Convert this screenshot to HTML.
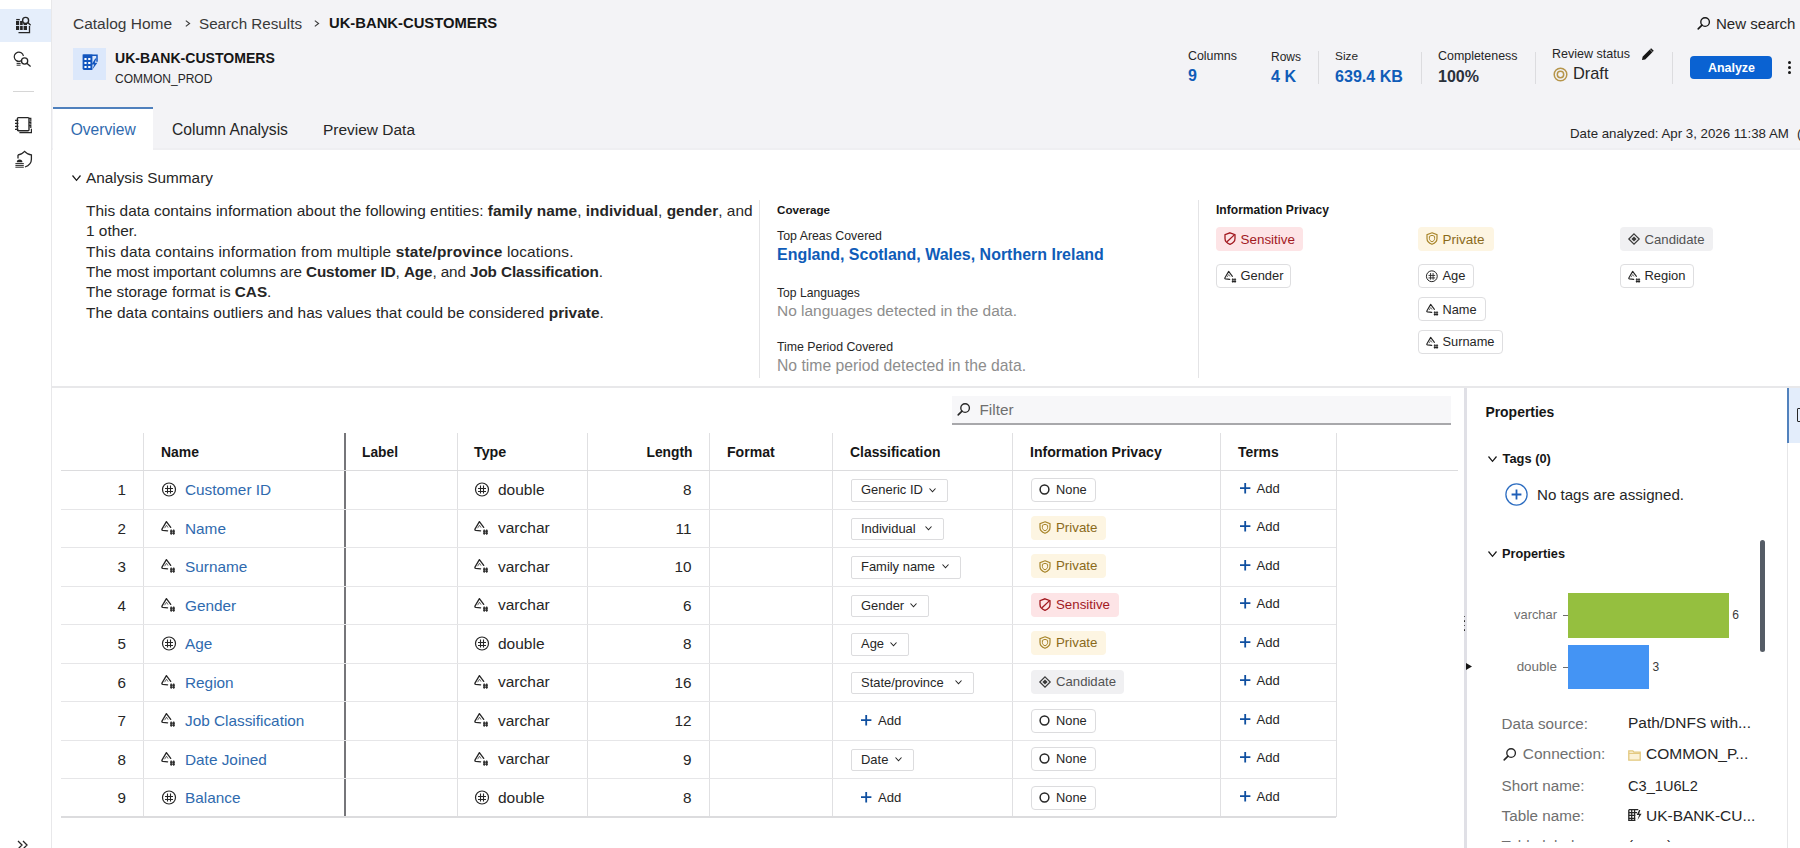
<!DOCTYPE html>
<html><head><meta charset="utf-8">
<style>
*{box-sizing:border-box;margin:0;padding:0}
html,body{width:1800px;height:848px;overflow:hidden;background:#fff}
body{font-family:"Liberation Sans",sans-serif;color:#161616;position:relative}
.a{position:absolute;white-space:nowrap;line-height:1}
svg.a{overflow:visible}
b{font-weight:700}
</style></head><body>
<div class="a" style="left:52px;top:0px;width:1748px;height:150px;background:#f3f3f6"></div>
<div class="a" style="left:52px;top:148px;width:1748px;height:2px;background:#efeff2"></div>
<div class="a" style="left:0px;top:0px;width:51px;height:848px;background:#fff"></div>
<div class="a" style="left:51px;top:0px;width:1px;height:848px;background:#e8e8ea"></div>
<div class="a" style="left:0px;top:9px;width:51px;height:33px;background:#e5eefb"></div>
<div class="a" style="left:13px;top:91px;width:21px;height:1px;background:#d6d6d6"></div>
<svg class="a" style="left:14px;top:16px;" width="19" height="19" viewBox="14 16 19 19" fill="none"><path d="M16.2 19.6h3.6" stroke="#262626" stroke-width="1.3"/><rect x="16" y="21" width="11" height="9" fill="#262626"/><path d="M19.6 21v9M23.2 21v9M16 25.5h11" stroke="#e5eefb" stroke-width="0.9"/><circle cx="25.6" cy="20.4" r="3" stroke="#262626" stroke-width="1.4" fill="#e5eefb"/><path d="M27.8 22.6l2.8 2.6" stroke="#262626" stroke-width="1.4"/><path d="M18.5 32.6h11v-6.6" stroke="#262626" stroke-width="1.3"/></svg>
<svg class="a" style="left:14px;top:49px;" width="19" height="19" viewBox="14 49 19 19" fill="none"><path d="M21.8 60.2A4.6 4.6 0 1 1 23.4 56" stroke="#262626" stroke-width="1.2"/><path d="M16.6 61.6h3.4M16.6 63.4h4M16.6 65.2h4" stroke="#262626" stroke-width="1"/><circle cx="24.6" cy="61" r="3.1" stroke="#262626" stroke-width="1.3"/><path d="M26.8 63.2l3.8 3.4" stroke="#262626" stroke-width="1.3"/></svg>
<svg class="a" style="left:14px;top:116px;" width="19" height="19" viewBox="14 116 19 19" fill="none"><rect x="17.4" y="117.6" width="11.6" height="13.2" rx="1" stroke="#262626" stroke-width="1.4"/><path d="M15 120.4h3.4M15 123.4h3.4M15 126.4h3.4M15 129.4h3.4" stroke="#262626" stroke-width="1.1"/><path d="M29 118.4h1.8v3M29 122.4h1.8v2.4M29 125.6h1.8v2.4" stroke="#262626" stroke-width="1.2"/><path d="M19.4 132.6h12v-3.8" stroke="#262626" stroke-width="1.2"/></svg>
<svg class="a" style="left:14px;top:150px;" width="19" height="19" viewBox="14 150 19 19" fill="none"><path d="M18 154.8c2.6 0 4.6-1.2 6.6-3.4 2 2.2 4 3.4 6.8 3.4v4.4c0 3.6-2.6 6.4-6.4 7.8" stroke="#262626" stroke-width="1.3"/><path d="M18 154.8v3.6" stroke="#262626" stroke-width="1.3"/><path d="M16.8 162.2a2.8 2.8 0 0 1 5.6 0z" fill="#262626"/><path d="M15.4 163.6h8.4M15.4 165.4h8.4M15.4 167.2h8.4" stroke="#262626" stroke-width="1"/></svg>
<div class="a" style="left:73px;top:15.68px;font-size:15.5px;font-weight:400;color:#393939;">Catalog Home</div>
<svg class="a" style="left:185px;top:20px;" width="6" height="7" viewBox="0 0 6 7" fill="none"><path d="M0.8 0.6L4.6 3.5 0.8 6.4" stroke="#393939" stroke-width="1.1"/></svg>
<div class="a" style="left:199px;top:15.93px;font-size:15.2px;font-weight:400;color:#393939;">Search Results</div>
<svg class="a" style="left:314px;top:20px;" width="6" height="7" viewBox="0 0 6 7" fill="none"><path d="M0.8 0.6L4.6 3.5 0.8 6.4" stroke="#393939" stroke-width="1.1"/></svg>
<div class="a" style="left:329px;top:16.27px;font-size:14.8px;font-weight:700;color:#161616;">UK-BANK-CUSTOMERS</div>
<div class="a" style="left:73px;top:48px;width:33px;height:32px;background:#dce8fb"></div>
<svg class="a" style="left:82px;top:54px;" width="17" height="17" viewBox="82 54 17 17" fill="none"><path d="M83.2 55.2h13.8v6.6" stroke="#1356be" stroke-width="1.5"/><path d="M82.6 54.6h9.8v15.4h-8.4a1.4 1.4 0 0 1-1.4-1.4z" fill="#1356be"/><path d="M84.4 58h2.2v2h-2.2zM88.2 58h2.2v2h-2.2zM84.4 62h2.2v2h-2.2zM88.2 62h2.2v2h-2.2zM84.4 66h2.2v2h-2.2zM88.2 66h2.2v2h-2.2z" fill="#fff"/><path d="M95.2 58.6l-3.6 5.8h2.6l-1.8 5 5-6.6h-2.6l1.6-4.2z" fill="#1356be"/></svg>
<div class="a" style="left:115px;top:50.69px;font-size:14.07px;font-weight:700;color:#161616;">UK-BANK-CUSTOMERS</div>
<div class="a" style="left:115px;top:73.24px;font-size:12px;font-weight:400;color:#262626;">COMMON_PROD</div>
<svg class="a" style="left:1697px;top:17px;" width="13" height="13" viewBox="0 0 13 13" fill="none"><circle cx="8.1" cy="5" r="4.3" stroke="#161616" stroke-width="1.35"/><path d="M5 8.1L1.2 11.9" stroke="#161616" stroke-width="1.6" stroke-linecap="round"/></svg>
<div class="a" style="left:1716px;top:15.95px;font-size:15.06px;font-weight:400;color:#262626;">New search</div>
<div class="a" style="left:1188px;top:50.18px;font-size:12.42px;font-weight:400;color:#262626;">Columns</div>
<div class="a" style="left:1188px;top:68.05px;font-size:16px;font-weight:700;color:#0f5cb8;">9</div>
<div class="a" style="left:1271px;top:50.54px;font-size:12.0px;font-weight:400;color:#262626;">Rows</div>
<div class="a" style="left:1271px;top:68.00px;font-size:16.06px;font-weight:700;color:#0f5cb8;">4 K</div>
<div class="a" style="left:1318px;top:51px;width:1px;height:33px;background:#dcdcdf"></div>
<div class="a" style="left:1335px;top:50.69px;font-size:11.82px;font-weight:400;color:#262626;">Size</div>
<div class="a" style="left:1335px;top:67.97px;font-size:16.1px;font-weight:700;color:#0f5cb8;">639.4 KB</div>
<div class="a" style="left:1421px;top:52px;width:1px;height:32px;background:#dcdcdf"></div>
<div class="a" style="left:1438px;top:50.27px;font-size:12.44px;font-weight:400;color:#262626;">Completeness</div>
<div class="a" style="left:1438px;top:67.93px;font-size:16.03px;font-weight:700;color:#2a313b;">100%</div>
<div class="a" style="left:1535px;top:52px;width:1px;height:32px;background:#dcdcdf"></div>
<div class="a" style="left:1552px;top:48.39px;font-size:12.53px;font-weight:400;color:#262626;">Review status</div>
<svg class="a" style="left:1641px;top:48px;" width="13" height="13" viewBox="0 0 13 13" fill="none"><path d="M1 12l0.6-3.2L8.8 1.6l2.6 2.6-7.2 7.2z" fill="#161616"/><path d="M9.6 0.8l2.6 2.6" stroke="#161616" stroke-width="1.5"/></svg>
<svg class="a" style="left:1553px;top:67px;" width="15" height="15" viewBox="0 0 15 15" fill="none"><circle cx="7.5" cy="7.5" r="6.3" stroke="#b6954a" stroke-width="1.5"/><circle cx="7.5" cy="7.5" r="3.2" stroke="#b6954a" stroke-width="1.5"/></svg>
<div class="a" style="left:1573px;top:64.63px;font-size:16.38px;font-weight:400;color:#262626;">Draft</div>
<div class="a" style="left:1672px;top:52px;width:1px;height:32px;background:#dcdcdf"></div>
<div class="a" style="left:1690px;top:56px;width:82px;height:23px;background:#0a62d2;border-radius:4px"></div>
<div class="a" style="left:1708px;top:61.67px;font-size:12.44px;font-weight:700;color:#fff;">Analyze</div>
<div class="a" style="left:1787.7px;top:61.0px;width:3.2px;height:3.2px;border-radius:50%;background:#161616"></div>
<div class="a" style="left:1787.7px;top:66.1px;width:3.2px;height:3.2px;border-radius:50%;background:#161616"></div>
<div class="a" style="left:1787.7px;top:71.3px;width:3.2px;height:3.2px;border-radius:50%;background:#161616"></div>
<div class="a" style="left:53px;top:107px;width:100px;height:43px;background:#fff"></div>
<div class="a" style="left:53px;top:107px;width:100px;height:2px;background:#4f80bd"></div>
<div class="a" style="left:70.7px;top:121.69px;font-size:15.6px;font-weight:400;color:#2f6aae;">Overview</div>
<div class="a" style="left:172px;top:121.62px;font-size:15.69px;font-weight:400;color:#262626;">Column Analysis</div>
<div class="a" style="left:323px;top:121.80px;font-size:15.47px;font-weight:400;color:#262626;">Preview Data</div>
<div class="a" style="left:1570px;top:126.76px;font-size:13.28px;font-weight:400;color:#262626;">Date analyzed: Apr 3, 2026 11:38 AM</div>
<div class="a" style="left:1797px;top:126.76px;font-size:13.28px;font-weight:400;color:#262626;">(</div>
<svg class="a" style="left:72px;top:175px;" width="9" height="6" viewBox="0 0 9 6" fill="none"><path d="M0.5 0.5L4.5 5.3L8.5 0.5" stroke="#161616" stroke-width="1.2"/></svg>
<div class="a" style="left:86px;top:170.01px;font-size:15.34px;font-weight:400;color:#262626;">Analysis Summary</div>
<div class="a" style="left:86px;top:203.24px;font-size:15.42px;font-weight:400;color:#262626;letter-spacing:0.03px">This data contains information about the following entities: <b>family name</b>, <b>individual</b>, <b>gender</b>, and</div>
<div class="a" style="left:86px;top:223.44px;font-size:15.42px;font-weight:400;color:#262626;letter-spacing:0px">1 other.</div>
<div class="a" style="left:86px;top:243.74px;font-size:15.42px;font-weight:400;color:#262626;letter-spacing:0.165px">This data contains information from multiple <b>state/province</b> locations.</div>
<div class="a" style="left:86px;top:264.09px;font-size:15.25px;font-weight:400;color:#262626;letter-spacing:-0.095px">The most important columns are <b>Customer ID</b>, <b>Age</b>, and <b>Job Classification</b>.</div>
<div class="a" style="left:86px;top:284.45px;font-size:15.3px;font-weight:400;color:#262626;letter-spacing:0px">The storage format is <b>CAS</b>.</div>
<div class="a" style="left:86px;top:304.74px;font-size:15.42px;font-weight:400;color:#262626;letter-spacing:0.03px">The data contains outliers and has values that could be considered <b>private</b>.</div>
<div class="a" style="left:759px;top:200px;width:1px;height:178px;background:#e4e4e6"></div>
<div class="a" style="left:1198px;top:200px;width:1px;height:178px;background:#e4e4e6"></div>
<div class="a" style="left:777px;top:204.45px;font-size:11.63px;font-weight:700;color:#161616;">Coverage</div>
<div class="a" style="left:777px;top:229.84px;font-size:12.35px;font-weight:400;color:#262626;">Top Areas Covered</div>
<div class="a" style="left:777px;top:247.47px;font-size:15.98px;font-weight:700;color:#0f5cb8;">England, Scotland, Wales, Northern Ireland</div>
<div class="a" style="left:777px;top:287.02px;font-size:12.14px;font-weight:400;color:#262626;">Top Languages</div>
<div class="a" style="left:777px;top:302.90px;font-size:15.47px;font-weight:400;color:#8d8d8d;">No languages detected in the data.</div>
<div class="a" style="left:777px;top:341.06px;font-size:12.33px;font-weight:400;color:#262626;">Time Period Covered</div>
<div class="a" style="left:777px;top:358.09px;font-size:15.72px;font-weight:400;color:#8d8d8d;">No time period detected in the data.</div>
<div class="a" style="left:1216px;top:204.05px;font-size:12.1px;font-weight:700;color:#161616;">Information Privacy</div>
<div class="a" style="left:1216px;top:227px;width:87px;height:24px;background:#fde4e6;border-radius:4px;"></div>
<svg class="a" style="left:1224px;top:232px;" width="12" height="13" viewBox="0 0 12 13" fill="none"><path d="M6 0.8L11 2.6V6.6C11 9.4 8.8 11.4 6 12.3 3.2 11.4 1 9.4 1 6.6V2.6Z" stroke="#a2191f" stroke-width="1.3"/><path d="M3 9.8L10.6 2.6" stroke="#a2191f" stroke-width="1.3"/></svg>
<div class="a" style="left:1240.5px;top:232.93px;font-size:13.43px;font-weight:400;color:#a2191f;">Sensitive</div>
<div class="a" style="left:1418px;top:227px;width:76px;height:24px;background:#fdf5e2;border-radius:4px;"></div>
<svg class="a" style="left:1426px;top:232px;" width="12" height="13" viewBox="0 0 12 13" fill="none"><path d="M6 0.8L11 2.6V6.6C11 9.4 8.8 11.4 6 12.3 3.2 11.4 1 9.4 1 6.6V2.6Z" stroke="#a8852a" stroke-width="1.2"/><path d="M6 3.3L8.6 4.3V6.6C8.6 8.2 7.6 9.2 6 9.8 4.4 9.2 3.4 8.2 3.4 6.6V4.3Z" stroke="#a8852a" stroke-width="1"/></svg>
<div class="a" style="left:1442.5px;top:232.88px;font-size:13.49px;font-weight:400;color:#8a6a1a;">Private</div>
<div class="a" style="left:1620px;top:227px;width:93px;height:24px;background:#f0f0f2;border-radius:4px;"></div>
<svg class="a" style="left:1628px;top:233px;" width="12" height="12" viewBox="0 0 12 12" fill="none"><path d="M6 0.8L11.2 6 6 11.2 0.8 6Z" stroke="#393939" stroke-width="1.2"/><path d="M6 3.4L8.6 6 6 8.6 3.4 6Z" fill="#393939"/></svg>
<div class="a" style="left:1644.5px;top:233.16px;font-size:13.16px;font-weight:400;color:#525252;">Candidate</div>
<div class="a" style="left:1216px;top:264px;width:75px;height:24px;background:#fff;border-radius:4px;border:1px solid #dedee0;"></div>
<svg class="a" style="left:1224px;top:270px;" width="13" height="13" viewBox="0 0 15 15" fill="none"><path d="M6.6 10.8L1.8 10.3Q0.4 10.1 1.1 8.9L5.4 1.6 9.7 7.4" stroke="#262626" stroke-width="1.3" stroke-linejoin="round" stroke-linecap="round"/><path d="M3.6 8.2L5.5 5.2 7 7.6" stroke="#262626" stroke-width="0.7"/><path d="M10.2 9.4v5.4M12.7 9.4v5.4M9 11.2h5M9 13.2h5" stroke="#262626" stroke-width="1.2"/></svg>
<div class="a" style="left:1240.5px;top:270.39px;font-size:12.89px;font-weight:400;color:#262626;">Gender</div>
<div class="a" style="left:1418px;top:264px;width:56px;height:24px;background:#fff;border-radius:4px;border:1px solid #dedee0;"></div>
<svg class="a" style="left:1426px;top:270px;" width="12.5" height="12.5" viewBox="0 0 15 15" fill="none"><circle cx="7" cy="7.5" r="6.5" stroke="#262626" stroke-width="1.2"/><path d="M5.5 3.6v8M8.5 3.6v8M3 6.5h8M3 9.5h8" stroke="#262626" stroke-width="1.1"/></svg>
<div class="a" style="left:1442.5px;top:270.35px;font-size:12.93px;font-weight:400;color:#262626;">Age</div>
<div class="a" style="left:1620px;top:264px;width:74px;height:24px;background:#fff;border-radius:4px;border:1px solid #dedee0;"></div>
<svg class="a" style="left:1628px;top:270px;" width="13" height="13" viewBox="0 0 15 15" fill="none"><path d="M6.6 10.8L1.8 10.3Q0.4 10.1 1.1 8.9L5.4 1.6 9.7 7.4" stroke="#262626" stroke-width="1.3" stroke-linejoin="round" stroke-linecap="round"/><path d="M3.6 8.2L5.5 5.2 7 7.6" stroke="#262626" stroke-width="0.7"/><path d="M10.2 9.4v5.4M12.7 9.4v5.4M9 11.2h5M9 13.2h5" stroke="#262626" stroke-width="1.2"/></svg>
<div class="a" style="left:1644.5px;top:270.34px;font-size:12.94px;font-weight:400;color:#262626;">Region</div>
<div class="a" style="left:1418px;top:297px;width:68px;height:24px;background:#fff;border-radius:4px;border:1px solid #dedee0;"></div>
<svg class="a" style="left:1426px;top:303px;" width="13" height="13" viewBox="0 0 15 15" fill="none"><path d="M6.6 10.8L1.8 10.3Q0.4 10.1 1.1 8.9L5.4 1.6 9.7 7.4" stroke="#262626" stroke-width="1.3" stroke-linejoin="round" stroke-linecap="round"/><path d="M3.6 8.2L5.5 5.2 7 7.6" stroke="#262626" stroke-width="0.7"/><path d="M10.2 9.4v5.4M12.7 9.4v5.4M9 11.2h5M9 13.2h5" stroke="#262626" stroke-width="1.2"/></svg>
<div class="a" style="left:1442.5px;top:303.50px;font-size:12.75px;font-weight:400;color:#262626;">Name</div>
<div class="a" style="left:1418px;top:330px;width:85px;height:24px;background:#fff;border-radius:4px;border:1px solid #dedee0;"></div>
<svg class="a" style="left:1426px;top:336px;" width="13" height="13" viewBox="0 0 15 15" fill="none"><path d="M6.6 10.8L1.8 10.3Q0.4 10.1 1.1 8.9L5.4 1.6 9.7 7.4" stroke="#262626" stroke-width="1.3" stroke-linejoin="round" stroke-linecap="round"/><path d="M3.6 8.2L5.5 5.2 7 7.6" stroke="#262626" stroke-width="0.7"/><path d="M10.2 9.4v5.4M12.7 9.4v5.4M9 11.2h5M9 13.2h5" stroke="#262626" stroke-width="1.2"/></svg>
<div class="a" style="left:1442.5px;top:336.45px;font-size:12.82px;font-weight:400;color:#262626;">Surname</div>
<div class="a" style="left:52px;top:386px;width:1748px;height:2px;background:#e8e8ea"></div>
<div class="a" style="left:952px;top:396px;width:499px;height:29px;background:#f7f7f9;border-bottom:2px solid #a8a8ab"></div>
<svg class="a" style="left:957px;top:403px;" width="13" height="13" viewBox="0 0 13 13" fill="none"><circle cx="8.1" cy="5" r="4.3" stroke="#262626" stroke-width="1.35"/><path d="M5 8.1L1.2 11.9" stroke="#262626" stroke-width="1.6" stroke-linecap="round"/></svg>
<div class="a" style="left:979.5px;top:401.55px;font-size:15.3px;font-weight:400;color:#6f6f6f;">Filter</div>
<div class="a" style="left:143px;top:433px;width:1px;height:384px;background:#e0e0e2"></div>
<div class="a" style="left:344px;top:433px;width:2px;height:384px;background:#76767a"></div>
<div class="a" style="left:457px;top:433px;width:1px;height:384px;background:#e0e0e2"></div>
<div class="a" style="left:587px;top:433px;width:1px;height:384px;background:#e0e0e2"></div>
<div class="a" style="left:709px;top:433px;width:1px;height:384px;background:#e0e0e2"></div>
<div class="a" style="left:832px;top:433px;width:1px;height:384px;background:#e0e0e2"></div>
<div class="a" style="left:1012px;top:433px;width:1px;height:384px;background:#e0e0e2"></div>
<div class="a" style="left:1220px;top:433px;width:1px;height:384px;background:#e0e0e2"></div>
<div class="a" style="left:1336px;top:433px;width:1px;height:384px;background:#e0e0e2"></div>
<div class="a" style="left:61px;top:470px;width:1397px;height:1px;background:#dcdcde"></div>
<div class="a" style="left:61px;top:509px;width:1275px;height:1px;background:#e6e6e8"></div>
<div class="a" style="left:61px;top:547px;width:1275px;height:1px;background:#e6e6e8"></div>
<div class="a" style="left:61px;top:586px;width:1275px;height:1px;background:#e6e6e8"></div>
<div class="a" style="left:61px;top:624px;width:1275px;height:1px;background:#e6e6e8"></div>
<div class="a" style="left:61px;top:663px;width:1275px;height:1px;background:#e6e6e8"></div>
<div class="a" style="left:61px;top:701px;width:1275px;height:1px;background:#e6e6e8"></div>
<div class="a" style="left:61px;top:740px;width:1275px;height:1px;background:#e6e6e8"></div>
<div class="a" style="left:61px;top:778px;width:1275px;height:1px;background:#e6e6e8"></div>
<div class="a" style="left:61px;top:816px;width:1275px;height:2px;background:#dcdcde"></div>
<div class="a" style="left:161px;top:445.59px;font-size:13.95px;font-weight:700;color:#161616;">Name</div>
<div class="a" style="left:362px;top:445.73px;font-size:13.78px;font-weight:700;color:#161616;">Label</div>
<div class="a" style="left:474px;top:445.29px;font-size:14.3px;font-weight:700;color:#161616;">Type</div>
<div class="a" style="right:1107.5px;top:445.72px;font-size:13.8px;font-weight:700;color:#161616;">Length</div>
<div class="a" style="left:727px;top:445.46px;font-size:14.1px;font-weight:700;color:#161616;">Format</div>
<div class="a" style="left:850px;top:445.61px;font-size:13.92px;font-weight:700;color:#161616;">Classification</div>
<div class="a" style="left:1030px;top:445.45px;font-size:14.11px;font-weight:700;color:#161616;">Information Privacy</div>
<div class="a" style="left:1238px;top:445.63px;font-size:13.9px;font-weight:700;color:#161616;">Terms</div>
<div class="a" style="right:1674px;top:482.13px;font-size:15.2px;font-weight:400;color:#262626;">1</div>
<svg class="a" style="left:162px;top:482px;" width="15" height="15" viewBox="0 0 15 15" fill="none"><circle cx="7" cy="7.5" r="6.5" stroke="#262626" stroke-width="1.2"/><path d="M5.5 3.6v8M8.5 3.6v8M3 6.5h8M3 9.5h8" stroke="#262626" stroke-width="1.1"/></svg>
<svg class="a" style="left:475px;top:482px;" width="15" height="15" viewBox="0 0 15 15" fill="none"><circle cx="7" cy="7.5" r="6.5" stroke="#262626" stroke-width="1.2"/><path d="M5.5 3.6v8M8.5 3.6v8M3 6.5h8M3 9.5h8" stroke="#262626" stroke-width="1.1"/></svg>
<div class="a" style="left:185px;top:482.00px;font-size:15.35px;font-weight:400;color:#2f6aae;">Customer ID</div>
<div class="a" style="left:498px;top:481.88px;font-size:15.5px;font-weight:400;color:#262626;">double</div>
<div class="a" style="right:1108.5px;top:482.05px;font-size:15.3px;font-weight:400;color:#262626;">8</div>
<div class="a" style="left:851px;top:479.0px;width:97px;height:22.5px;background:#fff;border:1px solid #dcdcde;border-radius:2px"></div>
<div class="a" style="left:861px;top:484.04px;font-size:12.95px;font-weight:400;color:#262626;">Generic ID</div>
<svg class="a" style="left:929px;top:488px;" width="7" height="4.5" viewBox="0 0 7 4.5" fill="none"><path d="M0.5 0.5L3.5 3.8L6.5 0.5" stroke="#262626" stroke-width="1.1"/></svg>
<div class="a" style="left:1030.5px;top:477.5px;width:65px;height:24px;background:#fff;border:1px solid #dcdcde;border-radius:4px"></div>
<svg class="a" style="left:1039px;top:484px;" width="11" height="11" viewBox="0 0 11 11" fill="none"><circle cx="5.5" cy="5.5" r="4.4" stroke="#262626" stroke-width="1.5"/></svg>
<div class="a" style="left:1056px;top:483.93px;font-size:12.84px;font-weight:400;color:#262626;">None</div>
<svg class="a" style="left:1240px;top:483px;" width="10.4" height="10.4" viewBox="0 0 10.4 10.4" fill="none"><path d="M5.2 0V10.4M0 5.2H10.4" stroke="#0f4fa0" stroke-width="1.8"/></svg>
<div class="a" style="left:1256.5px;top:481.76px;font-size:13.04px;font-weight:400;color:#262626;">Add</div>
<div class="a" style="right:1674px;top:520.63px;font-size:15.2px;font-weight:400;color:#262626;">2</div>
<svg class="a" style="left:161px;top:520px;" width="15" height="15" viewBox="0 0 15 15" fill="none"><path d="M6.6 10.8L1.8 10.3Q0.4 10.1 1.1 8.9L5.4 1.6 9.7 7.4" stroke="#262626" stroke-width="1.3" stroke-linejoin="round" stroke-linecap="round"/><path d="M3.6 8.2L5.5 5.2 7 7.6" stroke="#262626" stroke-width="0.7"/><path d="M10.2 9.4v5.4M12.7 9.4v5.4M9 11.2h5M9 13.2h5" stroke="#262626" stroke-width="1.2"/></svg>
<svg class="a" style="left:474px;top:520px;" width="15" height="15" viewBox="0 0 15 15" fill="none"><path d="M6.6 10.8L1.8 10.3Q0.4 10.1 1.1 8.9L5.4 1.6 9.7 7.4" stroke="#262626" stroke-width="1.3" stroke-linejoin="round" stroke-linecap="round"/><path d="M3.6 8.2L5.5 5.2 7 7.6" stroke="#262626" stroke-width="0.7"/><path d="M10.2 9.4v5.4M12.7 9.4v5.4M9 11.2h5M9 13.2h5" stroke="#262626" stroke-width="1.2"/></svg>
<div class="a" style="left:185px;top:520.50px;font-size:15.35px;font-weight:400;color:#2f6aae;">Name</div>
<div class="a" style="left:498px;top:520.38px;font-size:15.5px;font-weight:400;color:#262626;">varchar</div>
<div class="a" style="right:1108.5px;top:520.55px;font-size:15.3px;font-weight:400;color:#262626;">11</div>
<div class="a" style="left:851px;top:517.5px;width:93px;height:22.5px;background:#fff;border:1px solid #dcdcde;border-radius:2px"></div>
<div class="a" style="left:861px;top:522.54px;font-size:12.95px;font-weight:400;color:#262626;">Individual</div>
<svg class="a" style="left:925px;top:526px;" width="7" height="4.5" viewBox="0 0 7 4.5" fill="none"><path d="M0.5 0.5L3.5 3.8L6.5 0.5" stroke="#262626" stroke-width="1.1"/></svg>
<div class="a" style="left:1030.5px;top:515.5px;width:75.5px;height:24px;background:#fdf5e2;border-radius:4px"></div>
<svg class="a" style="left:1039px;top:521px;" width="12" height="13" viewBox="0 0 12 13" fill="none"><path d="M6 0.8L11 2.6V6.6C11 9.4 8.8 11.4 6 12.3 3.2 11.4 1 9.4 1 6.6V2.6Z" stroke="#a8852a" stroke-width="1.2"/><path d="M6 3.3L8.6 4.3V6.6C8.6 8.2 7.6 9.2 6 9.8 4.4 9.2 3.4 8.2 3.4 6.6V4.3Z" stroke="#a8852a" stroke-width="1"/></svg>
<div class="a" style="left:1056px;top:520.94px;font-size:13.3px;font-weight:400;color:#8a6a1a;">Private</div>
<svg class="a" style="left:1240px;top:521px;" width="10.4" height="10.4" viewBox="0 0 10.4 10.4" fill="none"><path d="M5.2 0V10.4M0 5.2H10.4" stroke="#0f4fa0" stroke-width="1.8"/></svg>
<div class="a" style="left:1256.5px;top:520.26px;font-size:13.04px;font-weight:400;color:#262626;">Add</div>
<div class="a" style="right:1674px;top:559.13px;font-size:15.2px;font-weight:400;color:#262626;">3</div>
<svg class="a" style="left:161px;top:558px;" width="15" height="15" viewBox="0 0 15 15" fill="none"><path d="M6.6 10.8L1.8 10.3Q0.4 10.1 1.1 8.9L5.4 1.6 9.7 7.4" stroke="#262626" stroke-width="1.3" stroke-linejoin="round" stroke-linecap="round"/><path d="M3.6 8.2L5.5 5.2 7 7.6" stroke="#262626" stroke-width="0.7"/><path d="M10.2 9.4v5.4M12.7 9.4v5.4M9 11.2h5M9 13.2h5" stroke="#262626" stroke-width="1.2"/></svg>
<svg class="a" style="left:474px;top:558px;" width="15" height="15" viewBox="0 0 15 15" fill="none"><path d="M6.6 10.8L1.8 10.3Q0.4 10.1 1.1 8.9L5.4 1.6 9.7 7.4" stroke="#262626" stroke-width="1.3" stroke-linejoin="round" stroke-linecap="round"/><path d="M3.6 8.2L5.5 5.2 7 7.6" stroke="#262626" stroke-width="0.7"/><path d="M10.2 9.4v5.4M12.7 9.4v5.4M9 11.2h5M9 13.2h5" stroke="#262626" stroke-width="1.2"/></svg>
<div class="a" style="left:185px;top:559.00px;font-size:15.35px;font-weight:400;color:#2f6aae;">Surname</div>
<div class="a" style="left:498px;top:558.88px;font-size:15.5px;font-weight:400;color:#262626;">varchar</div>
<div class="a" style="right:1108.5px;top:559.05px;font-size:15.3px;font-weight:400;color:#262626;">10</div>
<div class="a" style="left:851px;top:556.0px;width:110px;height:22.5px;background:#fff;border:1px solid #dcdcde;border-radius:2px"></div>
<div class="a" style="left:861px;top:561.04px;font-size:12.95px;font-weight:400;color:#262626;">Family name</div>
<svg class="a" style="left:942px;top:564px;" width="7" height="4.5" viewBox="0 0 7 4.5" fill="none"><path d="M0.5 0.5L3.5 3.8L6.5 0.5" stroke="#262626" stroke-width="1.1"/></svg>
<div class="a" style="left:1030.5px;top:554.0px;width:75.5px;height:24px;background:#fdf5e2;border-radius:4px"></div>
<svg class="a" style="left:1039px;top:560px;" width="12" height="13" viewBox="0 0 12 13" fill="none"><path d="M6 0.8L11 2.6V6.6C11 9.4 8.8 11.4 6 12.3 3.2 11.4 1 9.4 1 6.6V2.6Z" stroke="#a8852a" stroke-width="1.2"/><path d="M6 3.3L8.6 4.3V6.6C8.6 8.2 7.6 9.2 6 9.8 4.4 9.2 3.4 8.2 3.4 6.6V4.3Z" stroke="#a8852a" stroke-width="1"/></svg>
<div class="a" style="left:1056px;top:559.44px;font-size:13.3px;font-weight:400;color:#8a6a1a;">Private</div>
<svg class="a" style="left:1240px;top:560px;" width="10.4" height="10.4" viewBox="0 0 10.4 10.4" fill="none"><path d="M5.2 0V10.4M0 5.2H10.4" stroke="#0f4fa0" stroke-width="1.8"/></svg>
<div class="a" style="left:1256.5px;top:558.76px;font-size:13.04px;font-weight:400;color:#262626;">Add</div>
<div class="a" style="right:1674px;top:597.63px;font-size:15.2px;font-weight:400;color:#262626;">4</div>
<svg class="a" style="left:161px;top:597px;" width="15" height="15" viewBox="0 0 15 15" fill="none"><path d="M6.6 10.8L1.8 10.3Q0.4 10.1 1.1 8.9L5.4 1.6 9.7 7.4" stroke="#262626" stroke-width="1.3" stroke-linejoin="round" stroke-linecap="round"/><path d="M3.6 8.2L5.5 5.2 7 7.6" stroke="#262626" stroke-width="0.7"/><path d="M10.2 9.4v5.4M12.7 9.4v5.4M9 11.2h5M9 13.2h5" stroke="#262626" stroke-width="1.2"/></svg>
<svg class="a" style="left:474px;top:597px;" width="15" height="15" viewBox="0 0 15 15" fill="none"><path d="M6.6 10.8L1.8 10.3Q0.4 10.1 1.1 8.9L5.4 1.6 9.7 7.4" stroke="#262626" stroke-width="1.3" stroke-linejoin="round" stroke-linecap="round"/><path d="M3.6 8.2L5.5 5.2 7 7.6" stroke="#262626" stroke-width="0.7"/><path d="M10.2 9.4v5.4M12.7 9.4v5.4M9 11.2h5M9 13.2h5" stroke="#262626" stroke-width="1.2"/></svg>
<div class="a" style="left:185px;top:597.50px;font-size:15.35px;font-weight:400;color:#2f6aae;">Gender</div>
<div class="a" style="left:498px;top:597.38px;font-size:15.5px;font-weight:400;color:#262626;">varchar</div>
<div class="a" style="right:1108.5px;top:597.55px;font-size:15.3px;font-weight:400;color:#262626;">6</div>
<div class="a" style="left:851px;top:594.5px;width:78px;height:22.5px;background:#fff;border:1px solid #dcdcde;border-radius:2px"></div>
<div class="a" style="left:861px;top:599.54px;font-size:12.95px;font-weight:400;color:#262626;">Gender</div>
<svg class="a" style="left:910px;top:603px;" width="7" height="4.5" viewBox="0 0 7 4.5" fill="none"><path d="M0.5 0.5L3.5 3.8L6.5 0.5" stroke="#262626" stroke-width="1.1"/></svg>
<div class="a" style="left:1030.5px;top:592.5px;width:88px;height:24px;background:#fde4e6;border-radius:4px"></div>
<svg class="a" style="left:1039px;top:598px;" width="12" height="13" viewBox="0 0 12 13" fill="none"><path d="M6 0.8L11 2.6V6.6C11 9.4 8.8 11.4 6 12.3 3.2 11.4 1 9.4 1 6.6V2.6Z" stroke="#a2191f" stroke-width="1.3"/><path d="M3 9.8L10.6 2.6" stroke="#a2191f" stroke-width="1.3"/></svg>
<div class="a" style="left:1056px;top:597.94px;font-size:13.3px;font-weight:400;color:#a2191f;">Sensitive</div>
<svg class="a" style="left:1240px;top:598px;" width="10.4" height="10.4" viewBox="0 0 10.4 10.4" fill="none"><path d="M5.2 0V10.4M0 5.2H10.4" stroke="#0f4fa0" stroke-width="1.8"/></svg>
<div class="a" style="left:1256.5px;top:597.26px;font-size:13.04px;font-weight:400;color:#262626;">Add</div>
<div class="a" style="right:1674px;top:636.13px;font-size:15.2px;font-weight:400;color:#262626;">5</div>
<svg class="a" style="left:162px;top:636px;" width="15" height="15" viewBox="0 0 15 15" fill="none"><circle cx="7" cy="7.5" r="6.5" stroke="#262626" stroke-width="1.2"/><path d="M5.5 3.6v8M8.5 3.6v8M3 6.5h8M3 9.5h8" stroke="#262626" stroke-width="1.1"/></svg>
<svg class="a" style="left:475px;top:636px;" width="15" height="15" viewBox="0 0 15 15" fill="none"><circle cx="7" cy="7.5" r="6.5" stroke="#262626" stroke-width="1.2"/><path d="M5.5 3.6v8M8.5 3.6v8M3 6.5h8M3 9.5h8" stroke="#262626" stroke-width="1.1"/></svg>
<div class="a" style="left:185px;top:636.00px;font-size:15.35px;font-weight:400;color:#2f6aae;">Age</div>
<div class="a" style="left:498px;top:635.88px;font-size:15.5px;font-weight:400;color:#262626;">double</div>
<div class="a" style="right:1108.5px;top:636.05px;font-size:15.3px;font-weight:400;color:#262626;">8</div>
<div class="a" style="left:851px;top:633.0px;width:58px;height:22.5px;background:#fff;border:1px solid #dcdcde;border-radius:2px"></div>
<div class="a" style="left:861px;top:638.04px;font-size:12.95px;font-weight:400;color:#262626;">Age</div>
<svg class="a" style="left:890px;top:642px;" width="7" height="4.5" viewBox="0 0 7 4.5" fill="none"><path d="M0.5 0.5L3.5 3.8L6.5 0.5" stroke="#262626" stroke-width="1.1"/></svg>
<div class="a" style="left:1030.5px;top:631.0px;width:75.5px;height:24px;background:#fdf5e2;border-radius:4px"></div>
<svg class="a" style="left:1039px;top:636px;" width="12" height="13" viewBox="0 0 12 13" fill="none"><path d="M6 0.8L11 2.6V6.6C11 9.4 8.8 11.4 6 12.3 3.2 11.4 1 9.4 1 6.6V2.6Z" stroke="#a8852a" stroke-width="1.2"/><path d="M6 3.3L8.6 4.3V6.6C8.6 8.2 7.6 9.2 6 9.8 4.4 9.2 3.4 8.2 3.4 6.6V4.3Z" stroke="#a8852a" stroke-width="1"/></svg>
<div class="a" style="left:1056px;top:636.44px;font-size:13.3px;font-weight:400;color:#8a6a1a;">Private</div>
<svg class="a" style="left:1240px;top:637px;" width="10.4" height="10.4" viewBox="0 0 10.4 10.4" fill="none"><path d="M5.2 0V10.4M0 5.2H10.4" stroke="#0f4fa0" stroke-width="1.8"/></svg>
<div class="a" style="left:1256.5px;top:635.76px;font-size:13.04px;font-weight:400;color:#262626;">Add</div>
<div class="a" style="right:1674px;top:674.63px;font-size:15.2px;font-weight:400;color:#262626;">6</div>
<svg class="a" style="left:161px;top:674px;" width="15" height="15" viewBox="0 0 15 15" fill="none"><path d="M6.6 10.8L1.8 10.3Q0.4 10.1 1.1 8.9L5.4 1.6 9.7 7.4" stroke="#262626" stroke-width="1.3" stroke-linejoin="round" stroke-linecap="round"/><path d="M3.6 8.2L5.5 5.2 7 7.6" stroke="#262626" stroke-width="0.7"/><path d="M10.2 9.4v5.4M12.7 9.4v5.4M9 11.2h5M9 13.2h5" stroke="#262626" stroke-width="1.2"/></svg>
<svg class="a" style="left:474px;top:674px;" width="15" height="15" viewBox="0 0 15 15" fill="none"><path d="M6.6 10.8L1.8 10.3Q0.4 10.1 1.1 8.9L5.4 1.6 9.7 7.4" stroke="#262626" stroke-width="1.3" stroke-linejoin="round" stroke-linecap="round"/><path d="M3.6 8.2L5.5 5.2 7 7.6" stroke="#262626" stroke-width="0.7"/><path d="M10.2 9.4v5.4M12.7 9.4v5.4M9 11.2h5M9 13.2h5" stroke="#262626" stroke-width="1.2"/></svg>
<div class="a" style="left:185px;top:674.50px;font-size:15.35px;font-weight:400;color:#2f6aae;">Region</div>
<div class="a" style="left:498px;top:674.38px;font-size:15.5px;font-weight:400;color:#262626;">varchar</div>
<div class="a" style="right:1108.5px;top:674.55px;font-size:15.3px;font-weight:400;color:#262626;">16</div>
<div class="a" style="left:851px;top:671.5px;width:123px;height:22.5px;background:#fff;border:1px solid #dcdcde;border-radius:2px"></div>
<div class="a" style="left:861px;top:676.54px;font-size:12.95px;font-weight:400;color:#262626;">State/province</div>
<svg class="a" style="left:955px;top:680px;" width="7" height="4.5" viewBox="0 0 7 4.5" fill="none"><path d="M0.5 0.5L3.5 3.8L6.5 0.5" stroke="#262626" stroke-width="1.1"/></svg>
<div class="a" style="left:1030.5px;top:669.5px;width:93px;height:24px;background:#f0f0f2;border-radius:4px"></div>
<svg class="a" style="left:1039px;top:676px;" width="12" height="12" viewBox="0 0 12 12" fill="none"><path d="M6 0.8L11.2 6 6 11.2 0.8 6Z" stroke="#393939" stroke-width="1.2"/><path d="M6 3.4L8.6 6 6 8.6 3.4 6Z" fill="#393939"/></svg>
<div class="a" style="left:1056px;top:675.06px;font-size:13.16px;font-weight:400;color:#525252;">Candidate</div>
<svg class="a" style="left:1240px;top:675px;" width="10.4" height="10.4" viewBox="0 0 10.4 10.4" fill="none"><path d="M5.2 0V10.4M0 5.2H10.4" stroke="#0f4fa0" stroke-width="1.8"/></svg>
<div class="a" style="left:1256.5px;top:674.26px;font-size:13.04px;font-weight:400;color:#262626;">Add</div>
<div class="a" style="right:1674px;top:713.13px;font-size:15.2px;font-weight:400;color:#262626;">7</div>
<svg class="a" style="left:161px;top:712px;" width="15" height="15" viewBox="0 0 15 15" fill="none"><path d="M6.6 10.8L1.8 10.3Q0.4 10.1 1.1 8.9L5.4 1.6 9.7 7.4" stroke="#262626" stroke-width="1.3" stroke-linejoin="round" stroke-linecap="round"/><path d="M3.6 8.2L5.5 5.2 7 7.6" stroke="#262626" stroke-width="0.7"/><path d="M10.2 9.4v5.4M12.7 9.4v5.4M9 11.2h5M9 13.2h5" stroke="#262626" stroke-width="1.2"/></svg>
<svg class="a" style="left:474px;top:712px;" width="15" height="15" viewBox="0 0 15 15" fill="none"><path d="M6.6 10.8L1.8 10.3Q0.4 10.1 1.1 8.9L5.4 1.6 9.7 7.4" stroke="#262626" stroke-width="1.3" stroke-linejoin="round" stroke-linecap="round"/><path d="M3.6 8.2L5.5 5.2 7 7.6" stroke="#262626" stroke-width="0.7"/><path d="M10.2 9.4v5.4M12.7 9.4v5.4M9 11.2h5M9 13.2h5" stroke="#262626" stroke-width="1.2"/></svg>
<div class="a" style="left:185px;top:713.00px;font-size:15.35px;font-weight:400;color:#2f6aae;">Job Classification</div>
<div class="a" style="left:498px;top:712.88px;font-size:15.5px;font-weight:400;color:#262626;">varchar</div>
<div class="a" style="right:1108.5px;top:713.05px;font-size:15.3px;font-weight:400;color:#262626;">12</div>
<svg class="a" style="left:861px;top:715px;" width="10.4" height="10.4" viewBox="0 0 10.4 10.4" fill="none"><path d="M5.2 0V10.4M0 5.2H10.4" stroke="#0f4fa0" stroke-width="1.8"/></svg>
<div class="a" style="left:878px;top:713.81px;font-size:13.1px;font-weight:400;color:#262626;">Add</div>
<div class="a" style="left:1030.5px;top:708.5px;width:65px;height:24px;background:#fff;border:1px solid #dcdcde;border-radius:4px"></div>
<svg class="a" style="left:1039px;top:715px;" width="11" height="11" viewBox="0 0 11 11" fill="none"><circle cx="5.5" cy="5.5" r="4.4" stroke="#262626" stroke-width="1.5"/></svg>
<div class="a" style="left:1056px;top:714.93px;font-size:12.84px;font-weight:400;color:#262626;">None</div>
<svg class="a" style="left:1240px;top:714px;" width="10.4" height="10.4" viewBox="0 0 10.4 10.4" fill="none"><path d="M5.2 0V10.4M0 5.2H10.4" stroke="#0f4fa0" stroke-width="1.8"/></svg>
<div class="a" style="left:1256.5px;top:712.76px;font-size:13.04px;font-weight:400;color:#262626;">Add</div>
<div class="a" style="right:1674px;top:751.63px;font-size:15.2px;font-weight:400;color:#262626;">8</div>
<svg class="a" style="left:161px;top:751px;" width="15" height="15" viewBox="0 0 15 15" fill="none"><path d="M6.6 10.8L1.8 10.3Q0.4 10.1 1.1 8.9L5.4 1.6 9.7 7.4" stroke="#262626" stroke-width="1.3" stroke-linejoin="round" stroke-linecap="round"/><path d="M3.6 8.2L5.5 5.2 7 7.6" stroke="#262626" stroke-width="0.7"/><path d="M10.2 9.4v5.4M12.7 9.4v5.4M9 11.2h5M9 13.2h5" stroke="#262626" stroke-width="1.2"/></svg>
<svg class="a" style="left:474px;top:751px;" width="15" height="15" viewBox="0 0 15 15" fill="none"><path d="M6.6 10.8L1.8 10.3Q0.4 10.1 1.1 8.9L5.4 1.6 9.7 7.4" stroke="#262626" stroke-width="1.3" stroke-linejoin="round" stroke-linecap="round"/><path d="M3.6 8.2L5.5 5.2 7 7.6" stroke="#262626" stroke-width="0.7"/><path d="M10.2 9.4v5.4M12.7 9.4v5.4M9 11.2h5M9 13.2h5" stroke="#262626" stroke-width="1.2"/></svg>
<div class="a" style="left:185px;top:751.50px;font-size:15.35px;font-weight:400;color:#2f6aae;">Date Joined</div>
<div class="a" style="left:498px;top:751.38px;font-size:15.5px;font-weight:400;color:#262626;">varchar</div>
<div class="a" style="right:1108.5px;top:751.55px;font-size:15.3px;font-weight:400;color:#262626;">9</div>
<div class="a" style="left:851px;top:748.5px;width:63px;height:22.5px;background:#fff;border:1px solid #dcdcde;border-radius:2px"></div>
<div class="a" style="left:861px;top:753.54px;font-size:12.95px;font-weight:400;color:#262626;">Date</div>
<svg class="a" style="left:895px;top:757px;" width="7" height="4.5" viewBox="0 0 7 4.5" fill="none"><path d="M0.5 0.5L3.5 3.8L6.5 0.5" stroke="#262626" stroke-width="1.1"/></svg>
<div class="a" style="left:1030.5px;top:747px;width:65px;height:24px;background:#fff;border:1px solid #dcdcde;border-radius:4px"></div>
<svg class="a" style="left:1039px;top:753px;" width="11" height="11" viewBox="0 0 11 11" fill="none"><circle cx="5.5" cy="5.5" r="4.4" stroke="#262626" stroke-width="1.5"/></svg>
<div class="a" style="left:1056px;top:753.43px;font-size:12.84px;font-weight:400;color:#262626;">None</div>
<svg class="a" style="left:1240px;top:752px;" width="10.4" height="10.4" viewBox="0 0 10.4 10.4" fill="none"><path d="M5.2 0V10.4M0 5.2H10.4" stroke="#0f4fa0" stroke-width="1.8"/></svg>
<div class="a" style="left:1256.5px;top:751.26px;font-size:13.04px;font-weight:400;color:#262626;">Add</div>
<div class="a" style="right:1674px;top:790.13px;font-size:15.2px;font-weight:400;color:#262626;">9</div>
<svg class="a" style="left:162px;top:790px;" width="15" height="15" viewBox="0 0 15 15" fill="none"><circle cx="7" cy="7.5" r="6.5" stroke="#262626" stroke-width="1.2"/><path d="M5.5 3.6v8M8.5 3.6v8M3 6.5h8M3 9.5h8" stroke="#262626" stroke-width="1.1"/></svg>
<svg class="a" style="left:475px;top:790px;" width="15" height="15" viewBox="0 0 15 15" fill="none"><circle cx="7" cy="7.5" r="6.5" stroke="#262626" stroke-width="1.2"/><path d="M5.5 3.6v8M8.5 3.6v8M3 6.5h8M3 9.5h8" stroke="#262626" stroke-width="1.1"/></svg>
<div class="a" style="left:185px;top:790.00px;font-size:15.35px;font-weight:400;color:#2f6aae;">Balance</div>
<div class="a" style="left:498px;top:789.88px;font-size:15.5px;font-weight:400;color:#262626;">double</div>
<div class="a" style="right:1108.5px;top:790.05px;font-size:15.3px;font-weight:400;color:#262626;">8</div>
<svg class="a" style="left:861px;top:792px;" width="10.4" height="10.4" viewBox="0 0 10.4 10.4" fill="none"><path d="M5.2 0V10.4M0 5.2H10.4" stroke="#0f4fa0" stroke-width="1.8"/></svg>
<div class="a" style="left:878px;top:790.81px;font-size:13.1px;font-weight:400;color:#262626;">Add</div>
<div class="a" style="left:1030.5px;top:785.5px;width:65px;height:24px;background:#fff;border:1px solid #dcdcde;border-radius:4px"></div>
<svg class="a" style="left:1039px;top:792px;" width="11" height="11" viewBox="0 0 11 11" fill="none"><circle cx="5.5" cy="5.5" r="4.4" stroke="#262626" stroke-width="1.5"/></svg>
<div class="a" style="left:1056px;top:791.93px;font-size:12.84px;font-weight:400;color:#262626;">None</div>
<svg class="a" style="left:1240px;top:791px;" width="10.4" height="10.4" viewBox="0 0 10.4 10.4" fill="none"><path d="M5.2 0V10.4M0 5.2H10.4" stroke="#0f4fa0" stroke-width="1.8"/></svg>
<div class="a" style="left:1256.5px;top:789.76px;font-size:13.04px;font-weight:400;color:#262626;">Add</div>
<div class="a" style="left:1464px;top:388px;width:3px;height:460px;background:#e0e0e6"></div>
<div class="a" style="left:1485.4px;top:405.79px;font-size:13.95px;font-weight:700;color:#161616;">Properties</div>
<svg class="a" style="left:1488px;top:456px;" width="9" height="6" viewBox="0 0 9 6" fill="none"><path d="M0.5 0.5L4.5 5.3L8.5 0.5" stroke="#161616" stroke-width="1.2"/></svg>
<div class="a" style="left:1502.5px;top:453.40px;font-size:12.87px;font-weight:700;color:#161616;">Tags (0)</div>
<svg class="a" style="left:1505px;top:483px;" width="23" height="23" viewBox="0 0 23 23" fill="none"><circle cx="11.5" cy="11.5" r="10.6" stroke="#2f6fc2" stroke-width="1.3"/><path d="M11.5 6.6v9.8M6.6 11.5h9.8" stroke="#1f5fb8" stroke-width="1.8"/></svg>
<div class="a" style="left:1537px;top:486.91px;font-size:15.11px;font-weight:400;color:#262626;">No tags are assigned.</div>
<svg class="a" style="left:1488px;top:551px;" width="9" height="6" viewBox="0 0 9 6" fill="none"><path d="M0.5 0.5L4.5 5.3L8.5 0.5" stroke="#161616" stroke-width="1.2"/></svg>
<div class="a" style="left:1502px;top:548.41px;font-size:12.74px;font-weight:700;color:#161616;">Properties</div>
<div class="a" style="left:1568px;top:593px;width:161px;height:45px;background:#95bf3f"></div>
<div class="a" style="left:1568px;top:645px;width:81px;height:44px;background:#4494f4"></div>
<div class="a" style="left:1563px;top:615px;width:5px;height:1px;background:#6f6f6f"></div>
<div class="a" style="left:1563px;top:667px;width:5px;height:1px;background:#6f6f6f"></div>
<div class="a" style="right:243px;top:609.08px;font-size:12.9px;font-weight:400;color:#6f6f6f;">varchar</div>
<div class="a" style="right:243px;top:660.11px;font-size:13.45px;font-weight:400;color:#6f6f6f;">double</div>
<div class="a" style="left:1732.3px;top:609.34px;font-size:12px;font-weight:400;color:#393939;">6</div>
<div class="a" style="left:1652.4px;top:660.84px;font-size:12px;font-weight:400;color:#393939;">3</div>
<div class="a" style="left:1760px;top:540px;width:5px;height:112px;background:#555c66;border-radius:3px"></div>
<div class="a" style="left:1501.6px;top:715.60px;font-size:15.24px;font-weight:400;color:#6f6f6f;">Data source:</div>
<div class="a" style="left:1628px;top:715.39px;font-size:15.48px;font-weight:400;color:#262626;">Path/DNFS with...</div>
<svg class="a" style="left:1503px;top:748px;" width="13" height="13" viewBox="0 0 13 13" fill="none"><circle cx="8.1" cy="5" r="4.3" stroke="#262626" stroke-width="1.35"/><path d="M5 8.1L1.2 11.9" stroke="#262626" stroke-width="1.6" stroke-linecap="round"/></svg>
<div class="a" style="left:1522.8px;top:746.11px;font-size:15.46px;font-weight:400;color:#6f6f6f;">Connection:</div>
<svg class="a" style="left:1628px;top:750px;" width="13" height="11" viewBox="0 0 13 11" fill="none"><path d="M0.8 0.8h4l1.2 1.4h6.2v8H0.8z" fill="#fbf1d6" stroke="#e2c77e" stroke-width="1.3"/><path d="M0.8 3.4h11.4" stroke="#e2c77e" stroke-width="1.1"/></svg>
<div class="a" style="left:1646px;top:746.08px;font-size:15.5px;font-weight:400;color:#262626;">COMMON_P...</div>
<div class="a" style="left:1501.6px;top:778.20px;font-size:15.24px;font-weight:400;color:#6f6f6f;">Short name:</div>
<div class="a" style="left:1628px;top:778.74px;font-size:14.6px;font-weight:400;color:#262626;">C3_1U6L2</div>
<div class="a" style="left:1501.6px;top:807.90px;font-size:15.24px;font-weight:400;color:#6f6f6f;">Table name:</div>
<svg class="a" style="left:1628px;top:808px;" width="14" height="14" viewBox="0 0 17 16" fill="none"><path d="M1 1.5h11.5M1 1.5v13h8" stroke="#262626" stroke-width="1.6"/><path d="M1 5h10M1 8.5h8M1 12h8M4.5 1.5v13M8 1.5v13" stroke="#262626" stroke-width="1.5"/><path d="M13.5 2l-3 6h3l-2 6 5-7.5h-3l1.5-4.5z" fill="#262626"/></svg>
<div class="a" style="left:1646px;top:807.68px;font-size:15.5px;font-weight:400;color:#262626;">UK-BANK-CU...</div>
<div class="a" style="left:1501.6px;top:838.10px;font-size:15.24px;font-weight:400;color:#6f6f6f;">Table label:</div>
<div class="a" style="left:1628px;top:838.10px;font-size:15.24px;font-weight:400;color:#262626;">(none)</div>
<div class="a" style="left:1470px;top:842px;width:300px;height:6px;background:#fff"></div>
<div class="a" style="left:1463.6px;top:615.5px;width:1.8px;height:1.8px;background:#262626;border-radius:50%"></div>
<div class="a" style="left:1463.6px;top:620px;width:1.8px;height:1.8px;background:#262626;border-radius:50%"></div>
<div class="a" style="left:1463.6px;top:624.5px;width:1.8px;height:1.8px;background:#262626;border-radius:50%"></div>
<div class="a" style="left:1463.6px;top:629px;width:1.8px;height:1.8px;background:#262626;border-radius:50%"></div>
<svg class="a" style="left:1466px;top:663px;" width="6" height="7" viewBox="0 0 6 7" fill="none"><path d="M0 0L6 3.5 0 7z" fill="#161616"/></svg>
<div class="a" style="left:1787px;top:388px;width:13px;height:460px;background:#fff;border-left:1px solid #e6e6e8"></div>
<div class="a" style="left:1787px;top:388px;width:13px;height:55px;background:#e3edfb"></div>
<div class="a" style="left:1787px;top:388px;width:2px;height:55px;background:#5282bd"></div>
<div class="a" style="left:1797px;top:408px;width:6px;height:14px;border:1.5px solid #262626;border-radius:1px"></div>
<svg class="a" style="left:17px;top:840px;" width="12" height="10" viewBox="0 0 12 10" fill="none"><path d="M1 1l4 4-4 4M6 1l4 4-4 4" stroke="#262626" stroke-width="1.3"/></svg>
</body></html>
